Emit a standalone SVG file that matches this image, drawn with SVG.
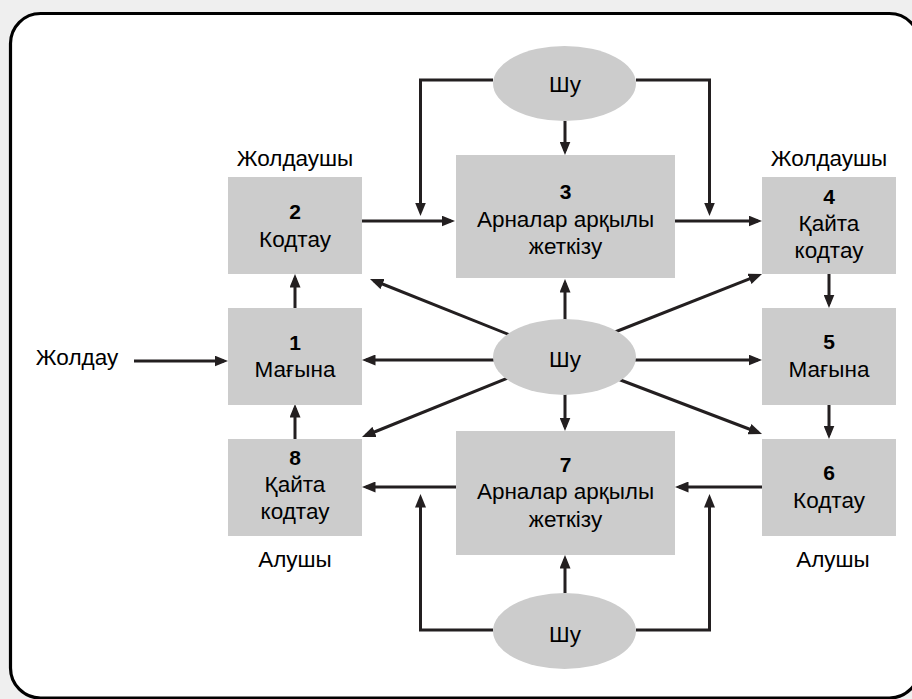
<svg xmlns="http://www.w3.org/2000/svg" width="912" height="699" viewBox="0 0 912 699">
<style>
.bg{fill:#efefef}
.frame{fill:#fff;stroke:#000;stroke-width:3.2}
.box{fill:#cccccc}
.ell{fill:#cccccc}
.t{font-family:"Liberation Sans",Arial,Helvetica,sans-serif;font-size:22.5px;fill:#000;text-anchor:middle}
.n{font-weight:bold;font-size:21px}
.c{fill:none;stroke:#231f20;stroke-width:3;marker-end:url(#ah)}
</style>
<defs>
<marker id="ah" markerUnits="userSpaceOnUse" markerWidth="14" markerHeight="11" viewBox="0 0 14 11" refX="9.5" refY="5.5" orient="auto">
<path d="M0,0 L13.5,5.5 L0,11 Z" fill="#231f20"/>
</marker>
</defs>
<rect class="bg" x="0" y="0" width="912" height="699"/>
<rect class="frame" x="10.5" y="13.5" width="909" height="684.5" rx="30" ry="30"/>
<g id="connectors">
<path class="c" d="M134,361 H224"/>
<path class="c" d="M362,221 H451"/>
<path class="c" d="M675,221 H758"/>
<path class="c" d="M493,80 H420.5 V212"/>
<path class="c" d="M636,80 H709.5 V212"/>
<path class="c" d="M565,121 V151"/>
<path class="c" d="M829,274 V304"/>
<path class="c" d="M829,404 V435"/>
<path class="c" d="M762,487 H679"/>
<path class="c" d="M456,487 H366"/>
<path class="c" d="M295,439 V408"/>
<path class="c" d="M295,308 V278"/>
<path class="c" d="M493,630 H420.5 V498"/>
<path class="c" d="M636,630 H709.5 V498"/>
<path class="c" d="M565,593 V559"/>
<path class="c" d="M565,330 V283"/>
<path class="c" d="M565,385 V427"/>
<path class="c" d="M520,360 H366"/>
<path class="c" d="M610,360 H758"/>
<path class="c" d="M520,339 L373.7,280.5"/>
<path class="c" d="M520,373 L365.7,435.5"/>
<path class="c" d="M610,334 L758.3,275.4"/>
<path class="c" d="M610,376 L758.3,432.5"/>
</g>
<g id="noise-top">
<ellipse class="ell" cx="564.5" cy="83.5" rx="71.5" ry="37.5"/>
<text class="t" x="565" y="92">Шу</text>
</g>
<g id="noise-mid">
<ellipse class="ell" cx="564.5" cy="357" rx="71.5" ry="38"/>
<text class="t" x="565" y="367">Шу</text>
</g>
<g id="noise-bot">
<ellipse class="ell" cx="564.5" cy="631" rx="71.5" ry="38"/>
<text class="t" x="565" y="642">Шу</text>
</g>
<g id="input">
<text class="t" x="77" y="365">Жолдау</text>
</g>
<g id="box2">
<text class="t" x="295" y="166">Жолдаушы</text>
<rect class="box" x="228" y="177" width="134" height="97"/>
<text class="t n" x="295" y="219">2</text>
<text class="t" x="295" y="247">Кодтау</text>
</g>
<g id="box1">
<rect class="box" x="228" y="308" width="134" height="97"/>
<text class="t n" x="295" y="350">1</text>
<text class="t" x="295" y="377">Мағына</text>
</g>
<g id="box8">
<rect class="box" x="228" y="439" width="134" height="97"/>
<text class="t n" x="295" y="465">8</text>
<text class="t" x="295" y="492">Қайта</text>
<text class="t" x="295" y="519">кодтау</text>
<text class="t" x="295" y="567">Алушы</text>
</g>
<g id="box3">
<rect class="box" x="456" y="155" width="219" height="123"/>
<text class="t n" x="565.5" y="199">3</text>
<text class="t" x="565.5" y="227">Арналар арқылы</text>
<text class="t" x="565.5" y="254">жеткізу</text>
</g>
<g id="box7">
<rect class="box" x="456" y="431" width="219" height="124"/>
<text class="t n" x="565.5" y="472">7</text>
<text class="t" x="565.5" y="499">Арналар арқылы</text>
<text class="t" x="565.5" y="527">жеткізу</text>
</g>
<g id="box4">
<text class="t" x="829" y="166">Жолдаушы</text>
<rect class="box" x="762" y="177" width="134" height="97"/>
<text class="t n" x="829" y="204">4</text>
<text class="t" x="829" y="231">Қайта</text>
<text class="t" x="829" y="258">кодтау</text>
</g>
<g id="box5">
<rect class="box" x="762" y="308" width="134" height="97"/>
<text class="t n" x="829" y="349">5</text>
<text class="t" x="829" y="377">Мағына</text>
</g>
<g id="box6">
<rect class="box" x="762" y="439" width="134" height="97"/>
<text class="t n" x="829" y="480">6</text>
<text class="t" x="829" y="508">Кодтау</text>
<text class="t" x="833" y="567">Алушы</text>
</g>
</svg>
